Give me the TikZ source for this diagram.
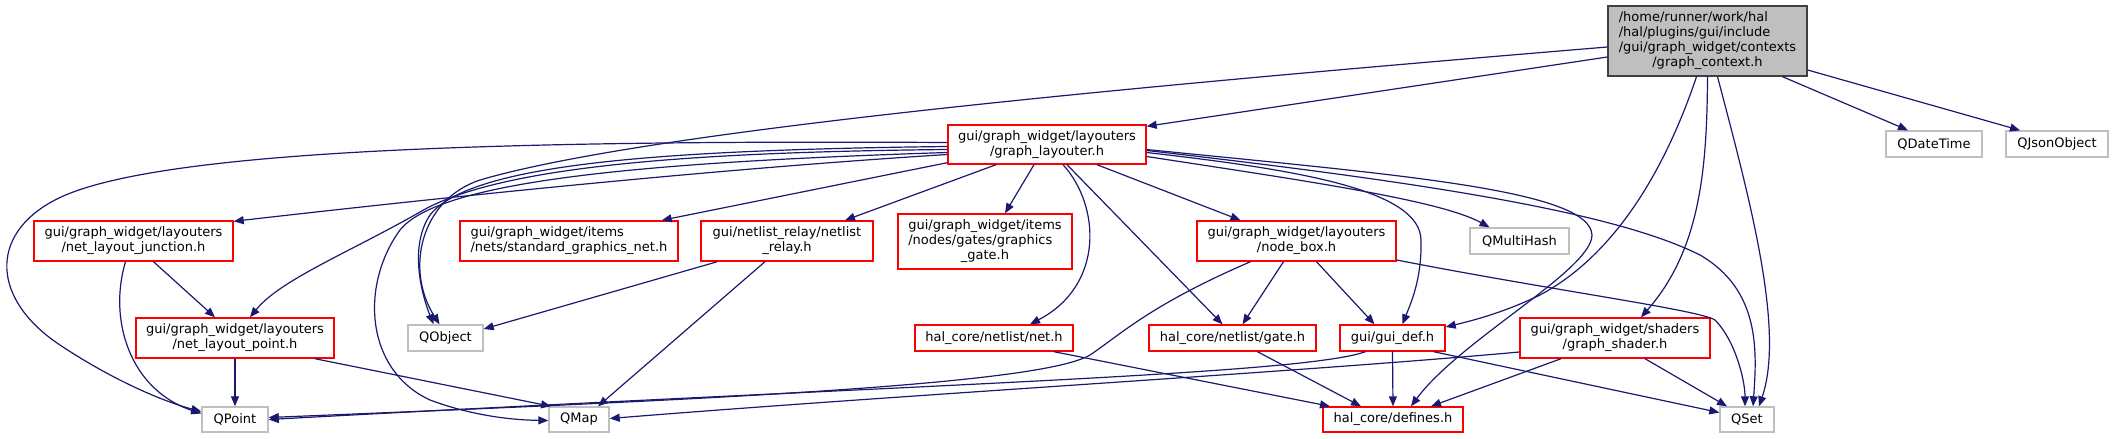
\documentclass[tikz,border=0pt]{standalone}
\usepackage{fontspec}
\setmainfont{DejaVu Sans}
\usetikzlibrary{arrows.meta, calc}
\definecolor{edgeBlue}{RGB}{25,25,112}
\definecolor{incBrd}{RGB}{255,0,0}
\definecolor{sysBrd}{RGB}{191,191,191}
\definecolor{rootFill}{RGB}{191,191,191}
\definecolor{rootBrd}{RGB}{64,64,64}
\tikzset{
  every node/.style={font=\fontsize{13}{15}\selectfont},
  B/.style={draw, line width=1.4pt, inner sep=1pt, fill=white},
  ROOT/.style={B, fill=rootFill, draw=rootBrd},
  INC/.style={B, draw=incBrd},
  SYS/.style={B, draw=sysBrd},
  AR/.style={-{Triangle[length=10pt,width=8pt]}, line width=1.2pt, edgeBlue},
}
\newcommand{\lbl}[2]{\begin{tabular}{@{}l@{}}#1\\\multicolumn{1}{@{}c@{}}{#2}\end{tabular}}

\begin{document}
\begin{tikzpicture}[x=1pt, y=1pt, yscale=-1]
\useasboundingbox (0,0) rectangle (2113,439);

%% Row 0 / 1 -- the header itself, its layouter, Qt headers
\node[ROOT, minimum width=199pt, minimum height=70pt] (ctx) at (1707.5,41)
  {\lbl{/home/runner/work/hal\\/hal/plugins/gui/include\\/gui/graph\_widget/contexts}{/graph\_context.h}};
\node[INC, minimum width=198pt, minimum height=39pt] (lay) at (1047,144.5)
  {\lbl{gui/graph\_widget/layouters}{/graph\_layouter.h}};
\node[SYS, minimum width=96pt, minimum height=26pt] (dtm) at (1934,144) {QDateTime};
\node[SYS, minimum width=102pt, minimum height=26pt] (jso) at (2057,144) {QJsonObject};

%% Row 2
\node[INC, minimum width=199pt, minimum height=40pt] (jun) at (133.5,241)
  {\lbl{gui/graph\_widget/layouters}{/net\_layout\_junction.h}};
\node[INC, minimum width=218pt, minimum height=40pt] (sgn) at (569,241)
  {\lbl{gui/graph\_widget/items}{/nets/standard\_graphics\_net.h}};
\node[INC, minimum width=172pt, minimum height=40pt] (rel) at (787,241)
  {\lbl{gui/netlist\_relay/netlist}{\_relay.h}};
\node[INC, minimum width=174pt, minimum height=55pt] (ggt) at (985,241.5)
  {\lbl{gui/graph\_widget/items\\/nodes/gates/graphics}{\_gate.h}};
\node[INC, minimum width=199pt, minimum height=40pt] (nbx) at (1296.5,241)
  {\lbl{gui/graph\_widget/layouters}{/node\_box.h}};
\node[SYS, minimum width=99pt, minimum height=26pt] (mhs) at (1519.5,241) {QMultiHash};

%% Row 3
\node[INC, minimum width=198pt, minimum height=40pt] (pnt) at (235,338)
  {\lbl{gui/graph\_widget/layouters}{/net\_layout\_point.h}};
\node[SYS, minimum width=75pt, minimum height=26pt] (qob) at (445.5,338) {QObject};
\node[INC, minimum width=158pt, minimum height=26pt] (net) at (994,338) {hal\_core/netlist/net.h};
\node[INC, minimum width=167pt, minimum height=26pt] (gat) at (1232.5,338) {hal\_core/netlist/gate.h};
\node[INC, minimum width=105pt, minimum height=26pt] (gdf) at (1392.5,338) {gui/gui\_def.h};
\node[INC, minimum width=190pt, minimum height=40pt] (shd) at (1615,338)
  {\lbl{gui/graph\_widget/shaders}{/graph\_shader.h}};

%% Row 4
\node[SYS, minimum width=66pt, minimum height=25pt] (qpt) at (235,419.5) {QPoint};
\node[SYS, minimum width=60pt, minimum height=25pt] (qmp) at (579,419.5) {QMap};
\node[INC, minimum width=140pt, minimum height=25pt] (dfn) at (1393,419.5) {hal\_core/defines.h};
\node[SYS, minimum width=54pt, minimum height=25pt] (qst) at (1747,419.5) {QSet};

%% graph_context.h
\draw[AR] ($(ctx.west)+(0,16)$) -- ($(lay.north east)+(0,2)$);
\draw[AR] ($(ctx.west)+(0,6)$) .. controls (1150,85) and (650,130) .. (480,180)
  .. controls (420,200) and (405,270) .. ($(qob.north)+(-6,0)$);
\draw[AR] ($(ctx.south)+(-11,0)$) .. controls (1665,170) and (1615,255) .. (1540,295)
  .. controls (1505,312) and (1475,320) .. ($(gdf.east)+(0,-11)$);
\draw[AR] (ctx.south) .. controls (1707,170) and (1700,250) .. ($(shd.north)+(26,0)$);
\draw[AR] ($(ctx.south)+(10,0)$) .. controls (1750,200) and (1785,330) .. ($(qst.north)+(12,0)$);
\draw[AR] ($(ctx.south)+(75,0)$) -- ($(dtm.north)+(-26,0)$);
\draw[AR] ($(ctx.east)+(0,29)$) -- ($(jso.north)+(-37,0)$);

%% graph_layouter.h
\draw[AR] ($(lay.west)+(0,10)$) .. controls (700,170) and (420,200) .. ($(jun.north east)+(0,1)$);
\draw[AR] ($(lay.south west)+(0,-2)$) -- ($(sgn.north east)+(-17,0)$);
\draw[AR] ($(lay.south)+(-51,0)$) -- ($(rel.north)+(58,0)$);
\draw[AR] ($(lay.south)+(-13,0)$) -- ($(ggt.north)+(20,0)$);
\draw[AR] ($(lay.south)+(16,0)$) .. controls (1100,205) and (1105,285) .. ($(net.north)+(36,0)$);
\draw[AR] ($(lay.south)+(20,0)$) -- ($(gat.north)+(-10,0)$);
\draw[AR] ($(lay.south)+(50,0)$) -- ($(nbx.north)+(-56,0)$);
\draw[AR] ($(lay.east)+(0,12)$) .. controls (1300,180) and (1440,200) .. ($(mhs.north)+(-30,0)$);
\draw[AR] ($(lay.east)+(0,8)$) .. controls (1300,170) and (1420,190) .. (1421,240)
  .. controls (1422,280) and (1410,305) .. ($(gdf.north)+(10,0)$);
\draw[AR] ($(lay.east)+(0,6)$) .. controls (1450,185) and (1620,215) .. (1700,255)
  .. controls (1760,290) and (1757,350) .. ($(qst.north)+(6,0)$);
\draw[AR] ($(lay.east)+(0,5)$) .. controls (1400,175) and (1590,190) .. (1592,235)
  .. controls (1592,270) and (1460,340) .. ($(dfn.north)+(18,0)$);
\draw[AR] ($(lay.west)+(0,2)$) .. controls (650,150) and (470,165) .. (430,215)
  .. controls (410,245) and (420,290) .. ($(qob.north)+(-12,0)$);
\draw[AR] ($(lay.west)+(0,5)$) .. controls (700,152) and (500,165) .. (420,212)
  .. controls (350,252) and (280,280) .. ($(pnt.north)+(15,0)$);
\draw[AR] ($(lay.west)+(0,8)$) .. controls (650,162) and (440,180) .. (400,230)
  .. controls (360,285) and (365,370) .. (430,400)
  .. controls (470,415) and (510,420) .. ($(qmp.west)+(0,1)$);
\draw[AR] ($(lay.west)+(0,-2)$) .. controls (500,140) and (150,150) .. (55,200)
  .. controls (-12,235) and (-8,300) .. (60,345)
  .. controls (114,381) and (165,402) .. ($(qpt.west)+(0,-8)$);

%% net_layout_junction.h / net_layout_point.h
\draw[AR] ($(jun.south)+(20,0)$) -- ($(pnt.north)+(-20,0)$);
\draw[AR] ($(jun.south)+(-8,0)$) .. controls (108,320) and (130,390) .. ($(qpt.west)+(0,-6)$);
\draw[AR] (pnt.south) -- (qpt.north);
\draw[AR] ($(pnt.south)+(80,0)$) -- ($(qmp.north)+(-28,0)$);

%% netlist_relay.h
\draw[AR] ($(rel.south west)+(17,0)$) -- ($(qob.east)+(0,-9)$);
\draw[AR] ($(rel.south)+(-22,0)$) -- ($(qmp.north)+(19,0)$);

%% node_box.h
\draw[AR] ($(nbx.south)+(-13,0)$) -- ($(gat.north)+(10,0)$);
\draw[AR] ($(nbx.south)+(20,0)$) -- ($(gdf.north)+(-18,0)$);
\draw[AR] ($(nbx.south)+(-46,0)$) .. controls (1150,305) and (1120,335) .. (1090,355)
  .. controls (1040,385) and (700,400) .. ($(qpt.east)+(0,-2)$);
\draw[AR] ($(nbx.east)+(0,19)$) .. controls (1550,290) and (1700,310) .. (1715,320)
  .. controls (1735,340) and (1745,380) .. ($(qst.north)+(-2,0)$);

%% net.h, gate.h, gui_def.h
\draw[AR] ($(net.south)+(60,0)$) -- ($(dfn.north)+(-63,0)$);
\draw[AR] ($(gat.south)+(25,0)$) -- ($(dfn.north)+(-32,0)$);
\draw[AR] (gdf.south) -- (dfn.north);
\draw[AR] ($(gdf.south)+(-27,0)$) .. controls (1300,375) and (900,385) .. (qpt.east);
\draw[AR] ($(gdf.south east)+(-12,0)$) -- ($(qst.west)+(0,-7)$);

%% graph_shader.h
\draw[AR] ($(shd.west)+(0,14)$) .. controls (1300,372) and (900,395) .. ($(qmp.east)+(0,-1)$);
\draw[AR] ($(shd.south)+(-54,0)$) -- ($(dfn.north)+(38,0)$);
\draw[AR] ($(shd.south)+(30,0)$) -- ($(qst.north)+(-20,0)$);

\end{tikzpicture}
\end{document}
